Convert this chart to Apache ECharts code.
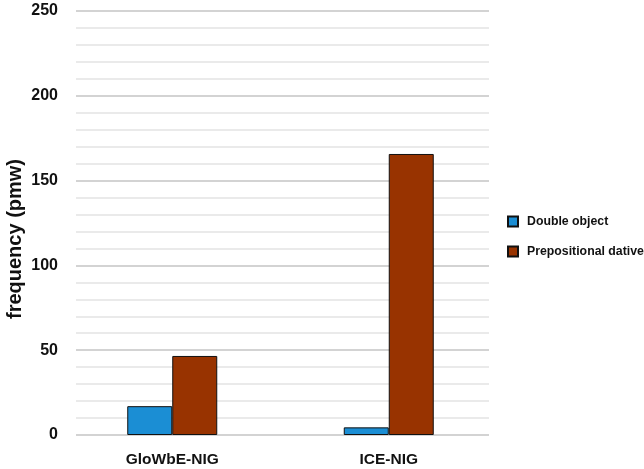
<!DOCTYPE html>
<html>
<head>
<meta charset="utf-8">
<script src="https://cdn.jsdelivr.net/npm/echarts@6/dist/echarts.min.js"></script>
<style>
  html, body { margin: 0; padding: 0; background: #fff; }
  #chart { width: 644px; height: 469px; }
</style>
</head>
<body>
<div id="chart"></div>
<script>
// data
const categories = ['GloWbE-NIG', 'ICE-NIG']
const doubleObject = [17, 4.5]
const prepDative = [46.6, 165.7]
const seriesNames = ['Double object', 'Prepositional dative']

const myChart = echarts.init(document.getElementById('chart'))
myChart.setOption({
  animation: false,
  textStyle: { fontFamily: 'Liberation Sans, Arial, sans-serif' },
  // grid 0 draws the gridlines and y labels, grid 1 holds the bars
  grid: [
    { left: 76, right: 155, top: 11, bottom: 34, outerBoundsMode: 'none' },
    { left: 64, right: 147, top: 11, bottom: 34, outerBoundsMode: 'none' }
  ],
  legend: {
    orient: 'vertical',
    left: 507,
    top: 213,
    padding: 0,
    icon: 'rect',
    itemWidth: 10,
    itemHeight: 10,
    itemGap: 13,
    textStyle: {
      fontSize: 12.3,
      fontWeight: 'bold',
      color: '#111',
      lineHeight: 17,
      padding: [0, 0, 0, 4]
    },
    data: seriesNames
  },
  xAxis: [
    {
      gridIndex: 0,
      type: 'category',
      data: categories,
      show: false
    },
    {
      gridIndex: 1,
      type: 'category',
      data: categories,
      axisLine: { show: false },
      axisTick: { show: false },
      axisLabel: { fontSize: 15.5, fontWeight: 'bold', color: '#111', margin: 17 }
    }
  ],
  yAxis: [
    {
      gridIndex: 0,
      type: 'value',
      min: 0,
      max: 250,
      interval: 50,
      name: 'frequency (pmw)',
      nameLocation: 'middle',
      nameGap: 51,
      nameMoveOverlap: false,
      nameTextStyle: { fontSize: 20, fontWeight: 'bold', color: '#111', padding: [0, 32, 0, 0] },
      axisLabel: { fontSize: 16, fontWeight: 'bold', color: '#111', margin: 18 },
      axisLine: { show: false },
      axisTick: { show: false },
      splitLine: { lineStyle: { color: '#c4c4c4', width: 1.5 } },
      minorTick: { show: false, splitNumber: 5 },
      minorSplitLine: { show: true, lineStyle: { color: '#e4e4e4', width: 1.5 } }
    },
    {
      gridIndex: 1,
      type: 'value',
      min: 0,
      max: 250,
      interval: 50,
      show: false,
      splitLine: { show: false }
    }
  ],
  series: [
    {
      name: seriesNames[0],
      type: 'bar',
      xAxisIndex: 1,
      yAxisIndex: 1,
      data: doubleObject,
      barWidth: 45,
      barGap: '0%',
      itemStyle: { color: '#1b8ed4', borderColor: '#111', borderWidth: 1 }
    },
    {
      name: seriesNames[1],
      type: 'bar',
      xAxisIndex: 1,
      yAxisIndex: 1,
      data: prepDative,
      barWidth: 45,
      barGap: '0%',
      itemStyle: { color: '#983300', borderColor: '#111', borderWidth: 1 }
    }
  ]
})
</script>
</body>
</html>
